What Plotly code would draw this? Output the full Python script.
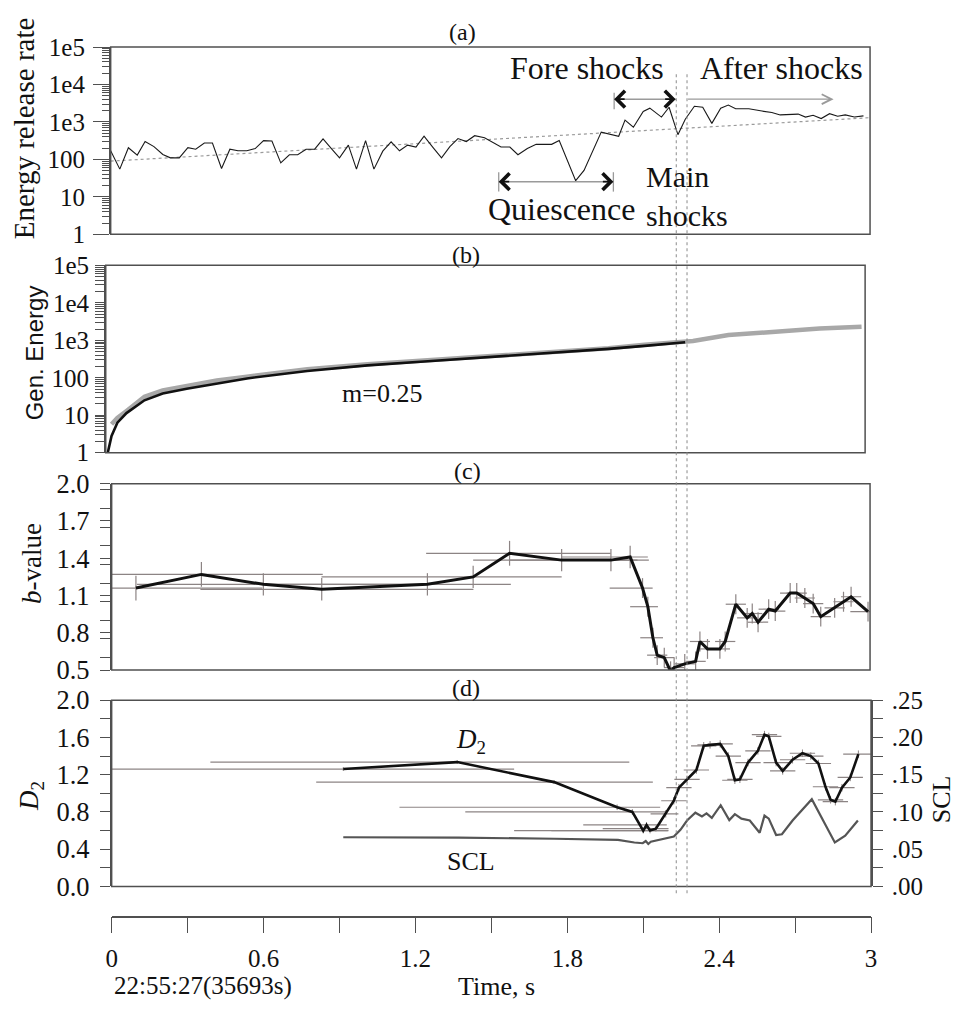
import plotly.graph_objects as go

# ---------------- data ----------------
# (a) energy release rate
rate_t = [0.000, 0.036, 0.070, 0.105, 0.136, 0.171, 0.206, 0.236, 0.271, 0.305,
          0.336, 0.370, 0.402, 0.438, 0.471, 0.503, 0.538, 0.571, 0.604, 0.637,
          0.672, 0.706, 0.739, 0.772, 0.806, 0.839, 0.872, 0.904, 0.939, 0.971,
          1.007, 1.040, 1.075, 1.108, 1.141, 1.173, 1.206, 1.238, 1.273, 1.307,
          1.340, 1.372, 1.405, 1.438, 1.477, 1.505, 1.542, 1.577, 1.609, 1.646,
          1.681, 1.714, 1.742, 1.772, 1.837, 1.870, 1.938, 2.007, 2.032, 2.065,
          2.104, 2.130, 2.176, 2.206, 2.241, 2.270, 2.306, 2.339, 2.375, 2.410,
          2.440, 2.469, 2.521, 2.573, 2.612, 2.645, 2.684, 2.716, 2.745, 2.775,
          2.807, 2.840, 2.872, 2.902, 2.938, 2.974]
rate_val = [170, 55, 205, 130, 300, 220, 135, 110, 110, 205,
            187, 275, 275, 57, 187, 170, 170, 195, 318, 310,
            81, 133, 133, 187, 187, 353, 195, 110, 240, 55,
            318, 55, 166, 295, 170, 240, 214, 420, 210, 110,
            220, 360, 300, 430, 380, 295, 214, 214, 133, 195,
            252, 252, 252, 318, 27, 51, 535, 415, 1120, 720,
            1910, 2330, 1350, 2470, 457, 1180, 2630, 2470, 915, 2330,
            2830, 2240, 2240, 1950, 1780, 1540, 1590, 1620, 1350, 1510,
            1230, 1660, 1420, 1540, 1350, 1450]
trend_t = [0.0, 3.0]
trend_val = [90, 1300]

# (b) generated energy
gen_black_t = [0.008, 0.023, 0.046, 0.082, 0.153, 0.225, 0.320, 0.439, 0.558, 0.796,
               1.034, 1.272, 1.510, 1.748, 1.986, 2.129, 2.289]
gen_black = [1.0, 2.8, 6.3, 11.4, 25, 38, 51, 71, 96, 152,
             214, 277, 353, 457, 590, 710, 890]
gen_gray_t = [0.023, 0.046, 0.082, 0.153, 0.225, 0.320, 0.439, 0.558, 0.796, 1.034,
              1.272, 1.510, 1.748, 1.986, 2.129, 2.289, 2.320, 2.460, 2.580, 2.700,
              2.820, 2.986]
gen_gray = [5.7, 8.5, 13, 31, 46, 62, 84, 107, 169, 228,
            290, 375, 485, 617, 760, 900, 955, 1380, 1610, 1860,
            2050, 2300]

# (c) b-value
b_t = [0.096, 0.355, 0.600, 0.831, 1.249, 1.430, 1.574, 1.780, 1.975, 2.051,
       2.100, 2.121, 2.141, 2.158, 2.186, 2.211, 2.225, 2.267, 2.310, 2.327,
       2.357, 2.406, 2.427, 2.469, 2.514, 2.534, 2.557, 2.599, 2.625, 2.684,
       2.710, 2.742, 2.775, 2.805, 2.860, 2.895, 2.925, 2.992]
b_val = [1.16, 1.27, 1.19, 1.15, 1.19, 1.25, 1.44, 1.385, 1.385, 1.41,
         1.16, 1.01, 0.76, 0.62, 0.60, 0.49, 0.52, 0.55, 0.57, 0.73,
         0.67, 0.67, 0.73, 1.03, 0.92, 0.955, 0.885, 0.99, 0.975, 1.12,
         1.12, 1.08, 1.035, 0.93, 1.00, 1.05, 1.09, 0.97]
b_tminus = [0.096, 0.355, 0.50, 0.48, 0.65, 0.60, 0.33, 0.35, 0.40, 0.27,
            0.13, 0.07, 0.05, 0.04, 0.04, 0.04, 0.04, 0.04, 0.04, 0.04,
            0.04, 0.04, 0.04, 0.04, 0.04, 0.04, 0.04, 0.04, 0.04, 0.04,
            0.04, 0.04, 0.04, 0.04, 0.04, 0.04, 0.04, 0.07]
b_tplus = [0.50, 0.48, 0.65, 0.60, 0.33, 0.35, 0.40, 0.30, 0.15, 0.07,
           0.04, 0.04, 0.04, 0.04, 0.04, 0.04, 0.04, 0.04, 0.04, 0.04,
           0.04, 0.04, 0.04, 0.04, 0.04, 0.04, 0.04, 0.04, 0.04, 0.04,
           0.04, 0.04, 0.04, 0.04, 0.04, 0.04, 0.04, 0.07]
b_err = [0.10, 0.10, 0.09, 0.09, 0.09, 0.09, 0.10, 0.09, 0.09, 0.09,
         0.08, 0.08, 0.08, 0.08, 0.08, 0.08, 0.08, 0.08, 0.08, 0.08,
         0.08, 0.08, 0.08, 0.08, 0.08, 0.08, 0.08, 0.08, 0.08, 0.08,
         0.08, 0.08, 0.08, 0.08, 0.08, 0.08, 0.08, 0.08]

# (d) D2 and SCL
d2_t = [0.915, 1.365, 1.748, 1.997, 2.057, 2.100, 2.113, 2.127, 2.150, 2.189,
        2.221, 2.241, 2.273, 2.310, 2.339, 2.364, 2.404, 2.436, 2.462, 2.482,
        2.514, 2.553, 2.579, 2.596, 2.625, 2.651, 2.690, 2.729, 2.762, 2.792,
        2.820, 2.840, 2.859, 2.885, 2.918, 2.950]
d2_val = [1.26, 1.335, 1.12, 0.85, 0.80, 0.60, 0.66, 0.60, 0.62, 0.78,
          0.92, 1.06, 1.15, 1.25, 1.51, 1.52, 1.53, 1.40, 1.14, 1.15,
          1.33, 1.455, 1.63, 1.61, 1.33, 1.24, 1.36, 1.43, 1.40, 1.32,
          1.07, 0.93, 0.91, 1.06, 1.17, 1.42]
d2_tminus = [0.915, 0.975, 0.94, 0.86, 0.66, 0.51, 0.25, 0.39, 0.21, 0.06,
             0.05, 0.05, 0.05, 0.05, 0.05, 0.05, 0.05, 0.05, 0.05, 0.05,
             0.05, 0.05, 0.05, 0.05, 0.05, 0.05, 0.05, 0.05, 0.05, 0.05,
             0.05, 0.05, 0.05, 0.05, 0.05, 0.06]
d2_tplus = [0.675, 0.68, 0.39, 0.17, 0.13, 0.10, 0.08, 0.07, 0.05, 0.05,
            0.05, 0.05, 0.05, 0.05, 0.05, 0.05, 0.05, 0.05, 0.05, 0.05,
            0.05, 0.05, 0.05, 0.05, 0.05, 0.05, 0.05, 0.05, 0.05, 0.05,
            0.05, 0.05, 0.05, 0.05, 0.05, 0.06]
d2_err = [0.02, 0.02, 0.02, 0.03, 0.03, 0.03, 0.03, 0.03, 0.03, 0.04,
          0.04, 0.04, 0.04, 0.04, 0.04, 0.04, 0.04, 0.04, 0.04, 0.04,
          0.04, 0.04, 0.04, 0.04, 0.04, 0.04, 0.04, 0.04, 0.04, 0.04,
          0.04, 0.04, 0.04, 0.04, 0.04, 0.04]
scl_t = [0.915, 1.370, 1.750, 2.000, 2.065, 2.098, 2.110, 2.120, 2.130, 2.170,
         2.221, 2.247, 2.273, 2.306, 2.332, 2.350, 2.371, 2.406, 2.440, 2.462,
         2.488, 2.521, 2.560, 2.579, 2.596, 2.625, 2.648, 2.690, 2.766, 2.857,
         2.898, 2.948]
scl_val = [0.066, 0.0655, 0.064, 0.0625, 0.059, 0.058, 0.061, 0.057, 0.060, 0.063,
           0.067, 0.076, 0.0885, 0.099, 0.094, 0.098, 0.092, 0.109, 0.089, 0.097,
           0.091, 0.0885, 0.072, 0.095, 0.091, 0.069, 0.070, 0.0885, 0.117, 0.059,
           0.068, 0.0885]

# tick labels
log_tickvals = [1, 10, 100, 1000, 10000, 100000]
log_ticktext = ['1', '10', '100', '1e3', '1e4', '1e5']
b_tickvals = [0.5, 0.8, 1.1, 1.4, 1.7, 2.0]
d2_tickvals = [0.0, 0.4, 0.8, 1.2, 1.6, 2.0]
scl_tickvals = [0.0, 0.05, 0.10, 0.15, 0.20, 0.25]
scl_ticktext = ['.00', '.05', '.10', '.15', '.20', '.25']
time_tickvals = [0, 0.6, 1.2, 1.8, 2.4, 3.0]
time_ticktext = ['0', '0.6', '1.2', '1.8', '2.4', '3']
main_shock_t = [2.2305, 2.273]

# ---------------- layout helpers ----------------
W, H = 959, 1015
SERIF = "Liberation Serif"
SANS = "Liberation Sans"
FRAME = '#505050'
ERRC = '#8c8484'


def px(p):
    return p / W


def py(p):
    return 1 - p / H


fig = go.Figure()

# (a)
fig.add_trace(go.Scatter(x=trend_t, y=trend_val, mode='lines',
                         line=dict(color='#9a9a9a', width=1.2, dash='dot'),
                         xaxis='x', yaxis='y'))
fig.add_trace(go.Scatter(x=rate_t, y=rate_val, mode='lines',
                         line=dict(color='#1a1a1a', width=1.1),
                         xaxis='x', yaxis='y'))
# (b)
fig.add_trace(go.Scatter(x=gen_gray_t, y=gen_gray, mode='lines',
                         line=dict(color='#a8a8a8', width=4.5),
                         xaxis='x2', yaxis='y2'))
fig.add_trace(go.Scatter(x=gen_black_t, y=gen_black, mode='lines',
                         line=dict(color='#111111', width=2.6),
                         xaxis='x2', yaxis='y2'))
# (c)
fig.add_trace(go.Scatter(x=b_t, y=b_val, mode='lines',
                         line=dict(color='#111111', width=3),
                         error_x=dict(type='data', symmetric=False, array=b_tplus,
                                      arrayminus=b_tminus, color=ERRC, thickness=1.2, width=0),
                         error_y=dict(type='data', array=b_err, color=ERRC,
                                      thickness=1.2, width=0),
                         xaxis='x3', yaxis='y3'))
# (d)
fig.add_trace(go.Scatter(x=d2_t, y=d2_val, mode='lines',
                         line=dict(color='#111111', width=2.6),
                         error_x=dict(type='data', symmetric=False, array=d2_tplus,
                                      arrayminus=d2_tminus, color=ERRC, thickness=1.2, width=0),
                         error_y=dict(type='data', array=d2_err, color=ERRC,
                                      thickness=1.0, width=0),
                         xaxis='x4', yaxis='y4'))
fig.add_trace(go.Scatter(x=scl_t, y=scl_val, mode='lines',
                         line=dict(color='#555555', width=2.2),
                         xaxis='x4', yaxis='y5'))

tickfont = dict(family=SERIF, size=25, color='#111')
tickfont_big = dict(family=SERIF, size=26.5, color='#111')
common_y = dict(showline=True, linecolor=FRAME, linewidth=1.5, ticks='outside',
                tickcolor=FRAME, tickwidth=1.2, showgrid=False, zeroline=False,
                fixedrange=True)
hidden_x = dict(visible=False, range=[0, 3], showgrid=False, zeroline=False)

fig.update_layout(
    width=W, height=H, margin=dict(l=0, r=0, t=0, b=0),
    paper_bgcolor='white', plot_bgcolor='white', showlegend=False,
    font=dict(family=SERIF, color='#111'),
    xaxis=dict(domain=[px(106), px(875)], anchor='y', **hidden_x),
    yaxis=dict(domain=[py(226), py(33)], anchor='x', type='log', range=[0, 5],
               tickvals=log_tickvals, ticktext=log_ticktext, ticklen=16,
               ticklabelstandoff=3, tickfont=tickfont,
               minor=dict(ticks='outside', ticklen=7, dtick='D1', tickcolor=FRAME, tickwidth=1),
               **common_y),
    xaxis2=dict(domain=[px(101), px(870)], anchor='y2', **hidden_x),
    yaxis2=dict(domain=[py(451), py(258)], anchor='x2', type='log', range=[0, 5],
                tickvals=log_tickvals, ticktext=log_ticktext, ticklen=9,
                ticklabelstandoff=1, tickfont=tickfont,
                minor=dict(ticks='outside', ticklen=9, dtick='D1', tickcolor=FRAME, tickwidth=1),
                **common_y),
    xaxis3=dict(domain=[px(107), px(875)], anchor='y3', **hidden_x),
    yaxis3=dict(domain=[py(675), py(483)], anchor='x3', range=[0.5, 2.0],
                tickvals=b_tickvals, tickformat='.1f', ticklen=10,
                ticklabelstandoff=5, tickfont=tickfont_big,
                minor=dict(ticks='outside', ticklen=10, dtick=0.15, tickcolor=FRAME, tickwidth=1.2),
                **common_y),
    xaxis4=dict(domain=[px(107), px(876)], anchor='free', position=py(929), range=[0, 3],
                showline=True, linecolor=FRAME, linewidth=1.5, ticks='outside', ticklen=16,
                tickcolor=FRAME, tickwidth=1.2, tickvals=time_tickvals, ticktext=time_ticktext,
                tickfont=tickfont, showgrid=False, zeroline=False, ticklabelstandoff=4,
                minor=dict(ticks='outside', ticklen=16, dtick=0.3, tickcolor=FRAME, tickwidth=1.2)),
    yaxis4=dict(domain=[py(898), py(706)], anchor='x4', range=[0, 2.0],
                tickvals=d2_tickvals, tickformat='.1f', ticklen=10,
                ticklabelstandoff=5, tickfont=tickfont_big,
                minor=dict(ticks='outside', ticklen=10, dtick=0.2, tickcolor=FRAME, tickwidth=1.2),
                **common_y),
    yaxis5=dict(overlaying='y4', side='right', anchor='x4', range=[0, 0.25],
                tickvals=scl_tickvals, ticktext=scl_ticktext, ticklen=10,
                ticklabelstandoff=4, tickfont=tickfont,
                minor=dict(ticks='outside', ticklen=10, dtick=0.025, tickcolor=FRAME, tickwidth=1.2),
                **common_y),
)

shapes = []
# panel frames
for xr, yr in [('x', 'y'), ('x2', 'y2'), ('x3', 'y3'), ('x4', 'y4')]:
    shapes.append(dict(type='rect', xref=xr + ' domain', yref=yr + ' domain',
                       x0=0, x1=1, y0=0, y1=1, line=dict(color=FRAME, width=1.5),
                       layer='above'))
# main-shock dotted verticals
for t in main_shock_t:
    shapes.append(dict(type='line', xref='x4', yref='paper', x0=t, x1=t,
                       y0=py(905), y1=py(58), line=dict(color='#8a8a8a', width=1, dash='dot')))
# arrow shafts & end ticks in (a)
GRAY = '#9a9a9a'
y_fore = py(86.7)
y_qui = py(171.7)
shapes += [
    dict(type='line', xref='x', yref='paper', x0=1.989, x1=2.232, y0=y_fore, y1=y_fore,
         line=dict(color=GRAY, width=1.5)),
    dict(type='line', xref='x', yref='paper', x0=1.989, x1=1.989, y0=py(97), y1=py(80),
         line=dict(color=GRAY, width=1.3)),
    dict(type='line', xref='x', yref='paper', x0=1.533, x1=1.986, y0=y_qui, y1=y_qui,
         line=dict(color=GRAY, width=1.5)),
    dict(type='line', xref='x', yref='paper', x0=1.533, x1=1.533, y0=py(182), y1=py(162),
         line=dict(color=GRAY, width=1.3)),
    dict(type='line', xref='x', yref='paper', x0=1.986, x1=1.986, y0=py(182), y1=py(162),
         line=dict(color=GRAY, width=1.3)),
]
fig.update_layout(shapes=shapes)

ann = []


def text(s, x, y, size, family=SERIF, angle=0, color='#111', xanchor='center', align='center'):
    ann.append(dict(text=s, x=px(x), y=py(y), xref='paper', yref='paper', showarrow=False,
                    xanchor=xanchor, yanchor='middle', textangle=angle, align=align,
                    font=dict(family=family, size=size, color=color)))


text('(a)', 462, 18, 24)
text('(b)', 466, 247, 24)
text('(c)', 467, 470, 24)
text('(d)', 466, 693, 24)
text('Fore shocks', 588, 55, 32)
text('After shocks', 785, 55, 32)
text('Quiescence', 563, 200, 32)
text('Main<br>shocks', 646, 187, 30, xanchor='left', align='left')
text('m=0.25', 381, 390, 26)
text('<i>D</i><sub>2</sub>', 471, 748, 27)
text('SCL', 471, 872, 26)
text('22:55:27(35693s)', 200, 1001, 25)
text('Time, s', 497, 1001, 26)
text('Energy release rate', 18, 117, 29, angle=-90)
text('Gen. Energy', 29, 348, 24, family=SANS, angle=-90)
text('<i>b</i>-value', 27, 565, 27, angle=-90)
text('<i>D</i><sub>2</sub>', 26, 805, 27, angle=-90)
text('SCL', 947, 808, 26, angle=-90)


def head(x, y, direction):
    ann.append(dict(text='', x=x, y=y, xref='x', yref='paper', showarrow=True,
                    ax=-12 * direction, ay=0, axref='pixel', ayref='pixel',
                    arrowhead=4, arrowsize=2.0, arrowwidth=1.6, arrowcolor='#111'))


head(2.232, y_fore, 1)
head(1.989, y_fore, -1)
head(1.986, y_qui, 1)
head(1.533, y_qui, -1)
# after-shocks open arrow
ann.append(dict(text='', x=2.856, y=y_fore, xref='x', yref='paper', showarrow=True,
                ax=2.275, ay=0, axref='x', ayref='pixel', arrowhead=5, arrowsize=1.6,
                arrowwidth=1.2, arrowcolor=GRAY))

fig.update_layout(annotations=ann)
fig.write_html("out.html",
               post_script="document.body.style.margin='0';document.body.style.padding='0';")
